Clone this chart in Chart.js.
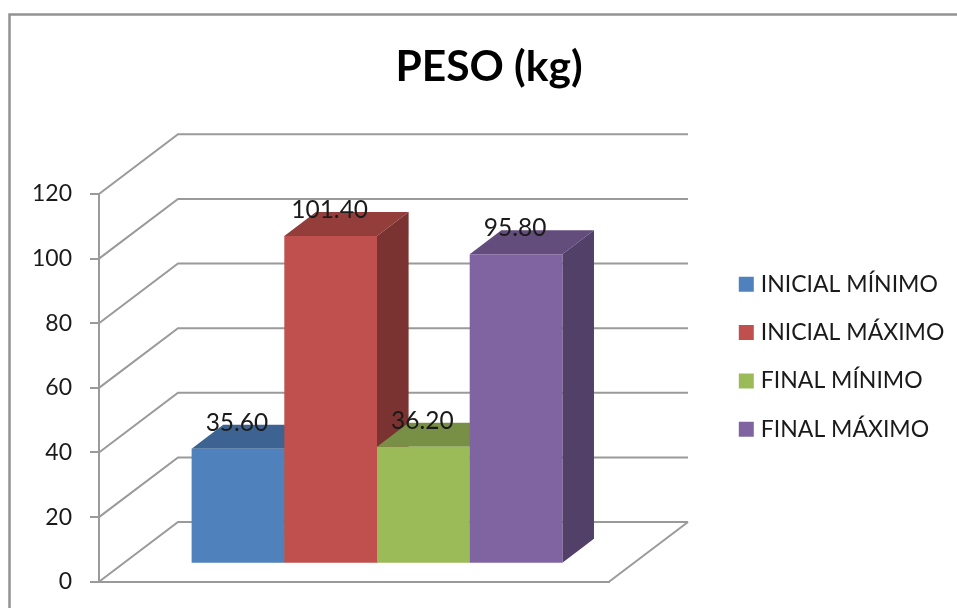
<!DOCTYPE html>
<html lang="es">
<head>
  <meta charset="UTF-8" />
  <title>PESO (kg)</title>
  <script src="https://cdn.jsdelivr.net/npm/chart.js"></script>
  <style>
    html, body { margin: 0; background: #fff; }
    #chartBox { width: 957px; height: 608px; }
  </style>
</head>
<body>
  <div id="chartBox"><canvas id="pesoChart" width="957" height="608"></canvas></div>

  <script>
    const categories = ['PESO'];
    const seriesNames = ['INICIAL MÍNIMO', 'INICIAL MÁXIMO', 'FINAL MÍNIMO', 'FINAL MÁXIMO'];
    const seriesValues = [35.60, 101.40, 36.20, 95.80];
    const yTicks = [0, 20, 40, 60, 80, 100, 120];
    const seriesColors = ['#4f81bd', '#c0504d', '#9bbb59', '#8064a2'];

    const FONT = 'Lato, Carlito, sans-serif';
    const LINE = '#9a9a9a';

    // depth of the 3D box, and how far the bars sit inside it
    const WALL_DX = 79, WALL_DY = -59.7;
    const BAR_DX = 23, BAR_DY = -18;
    const BAR_DEPTH_X = 31.6, BAR_DEPTH_Y = -24;

    function shade(hex, f) {
      const n = parseInt(hex.slice(1), 16);
      const c = [n >> 16, (n >> 8) & 255, n & 255].map(v => Math.round(v * f));
      return `rgb(${c[0]},${c[1]},${c[2]})`;
    }

    function poly(ctx, pts, fill) {
      ctx.beginPath();
      pts.forEach((p, i) => i ? ctx.lineTo(p[0], p[1]) : ctx.moveTo(p[0], p[1]));
      ctx.closePath();
      ctx.fillStyle = fill;
      ctx.fill();
    }

    // outer frame, only the top and left edges are in view
    const framePlugin = {
      id: 'frame',
      beforeDraw(chart) {
        const ctx = chart.ctx;
        ctx.save();
        ctx.strokeStyle = '#929292';
        ctx.lineWidth = 2.5;
        ctx.beginPath();
        ctx.moveTo(9.5, 608);
        ctx.lineTo(9.5, 14.5);
        ctx.lineTo(957, 14.5);
        ctx.stroke();
        ctx.restore();
      }
    };

    // nudges the title and legend to their spots after chart.js lays them out
    const placePlugin = {
      id: 'place',
      afterLayout(chart) {
        chart.titleBlock.left = 21;
        chart.titleBlock.right = 957;
        chart.legend.left = 718;
        chart.legend.right = 957;
        chart.legend.top = 247.5;
        chart.legend.bottom = 608;
      }
    };

    // side walls and floor, one slanted line per y tick
    const wallsPlugin = {
      id: 'walls',
      beforeDatasetsDraw(chart) {
        const ctx = chart.ctx;
        const { left, right } = chart.chartArea;
        const y = chart.scales.y;
        ctx.save();
        ctx.strokeStyle = LINE;
        ctx.lineWidth = 2;
        yTicks.forEach(t => {
          const py = y.getPixelForValue(t);
          ctx.beginPath();
          ctx.moveTo(left, py);
          ctx.lineTo(left + WALL_DX, py + WALL_DY);
          ctx.lineTo(right + WALL_DX, py + WALL_DY);
          ctx.stroke();
        });
        const py0 = y.getPixelForValue(0);
        ctx.beginPath();
        ctx.moveTo(right, py0);
        ctx.lineTo(right + WALL_DX, py0 + WALL_DY);
        ctx.stroke();
        ctx.restore();
      }
    };

    // bars go left to right so each one overlaps the side of the previous one
    const barsPlugin = {
      id: 'bars3d',
      beforeDatasetsDraw(chart) {
        const ctx = chart.ctx;
        chart.data.datasets.forEach((ds, i) => {
          const meta = chart.getDatasetMeta(i);
          const bar = meta.data[0];
          const x0 = bar.x - bar.width / 2, x1 = bar.x + bar.width / 2;
          const color = seriesColors[i];
          ctx.save();
          ctx.translate(BAR_DX, BAR_DY);
          poly(ctx, [[x0, bar.y], [x0 + BAR_DEPTH_X, bar.y + BAR_DEPTH_Y], [x1 + BAR_DEPTH_X, bar.y + BAR_DEPTH_Y], [x1, bar.y]], shade(color, 0.77));
          poly(ctx, [[x1, bar.y], [x1 + BAR_DEPTH_X, bar.y + BAR_DEPTH_Y], [x1 + BAR_DEPTH_X, bar.base + BAR_DEPTH_Y], [x1, bar.base]], shade(color, 0.64));
          meta.controller.draw();
          ctx.restore();
        });
        return false;
      },
      // value labels; returning false above skips afterDatasetsDraw
      afterDraw(chart) {
        const ctx = chart.ctx;
        ctx.save();
        ctx.font = '24.5px ' + FONT;
        ctx.fillStyle = '#1a1a1a';
        ctx.textAlign = 'center';
        ctx.textBaseline = 'middle';
        chart.data.datasets.forEach((ds, i) => {
          const bar = chart.getDatasetMeta(i).data[0];
          ctx.fillText(ds.data[0].toFixed(2), bar.x + BAR_DX - 1, bar.y + BAR_DY - 26);
        });
        ctx.restore();
      }
    };

    new Chart(document.getElementById('pesoChart'), {
      type: 'bar',
      data: {
        labels: categories,
        datasets: seriesNames.map((name, i) => ({
          label: name,
          data: [seriesValues[i]],
          backgroundColor: seriesColors[i],
          borderWidth: 0,
          clip: false
        }))
      },
      plugins: [framePlugin, wallsPlugin, barsPlugin, placePlugin],
      options: {
        responsive: false,
        animation: false,
        layout: { padding: { top: 0, right: 145, bottom: 26.3, left: 0 } },
        datasets: { bar: { barPercentage: 1, categoryPercentage: 0.727 } },
        scales: {
          x: {
            ticks: { display: false },
            grid: { display: false, drawTicks: false },
            border: { display: true, color: LINE, width: 2 }
          },
          y: {
            min: 0,
            max: 120,
            afterFit(scale) {
              scale.width = 99;
              scale.paddingTop = 0;
              scale.paddingBottom = 0;
            },
            afterBuildTicks(scale) { scale.ticks = yTicks.map(v => ({ value: v })); },
            ticks: { padding: 18, color: '#1a1a1a', font: { family: FONT, size: 23 } },
            grid: { drawOnChartArea: false, tickLength: 9, color: LINE, lineWidth: 2 },
            border: { display: true, color: LINE, width: 2 }
          }
        },
        plugins: {
          tooltip: { enabled: false },
          title: {
            display: true,
            text: 'PESO (kg)',
            color: '#000',
            font: { family: FONT, size: 42.5, weight: 'bold' },
            padding: { top: 42, bottom: 101 }
          },
          legend: {
            position: 'right',
            align: 'start',
            labels: {
              // thin box with a thick same-colour stroke keeps the swatch close to its text
              boxWidth: 6,
              boxHeight: 6,
              padding: 25.3,
              color: '#1a1a1a',
              font: { family: FONT, size: 23 },
              generateLabels(chart) {
                return chart.data.datasets.map((ds, i) => ({
                  text: ds.label,
                  datasetIndex: i,
                  fillStyle: seriesColors[i],
                  strokeStyle: seriesColors[i],
                  lineWidth: 9,
                  fontColor: '#1a1a1a'
                }));
              }
            }
          }
        }
      }
    });
  </script>
</body>
</html>
